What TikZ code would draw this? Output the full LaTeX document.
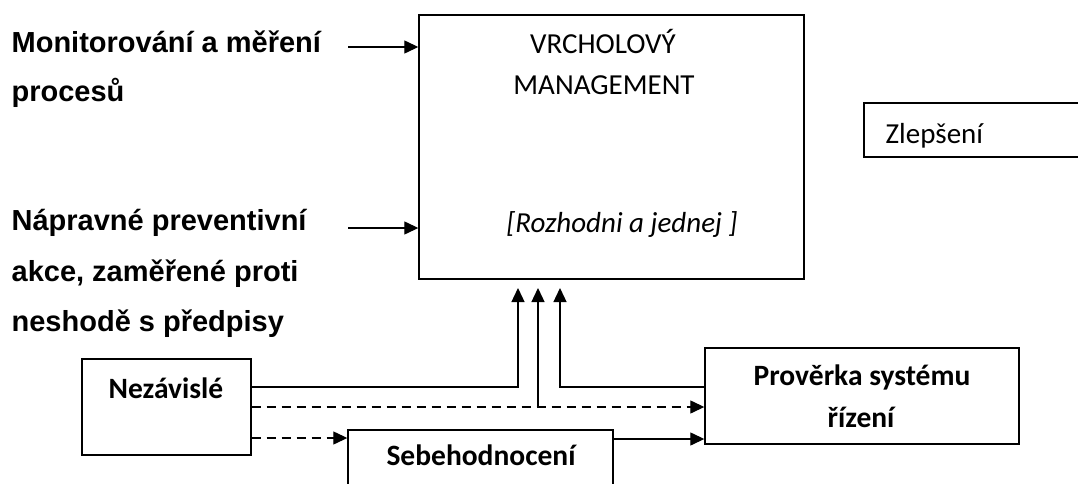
\documentclass[tikz,border=0pt]{standalone}
\usepackage{fontspec}
\setmainfont{Carlito}
\newfontfamily\arialfont{Liberation Sans}
\usetikzlibrary{arrows.meta}
\begin{document}
\begin{tikzpicture}[x=1pt,y=-1pt,
  line width=1.3pt,
  box/.style={draw, line width=1.4pt, inner sep=0pt},
  lbl/.style={inner sep=0pt, font=\fontsize{29}{31}\selectfont},
  blbl/.style={inner sep=0pt, font=\fontsize{29.5}{31}\selectfont\bfseries},
  side/.style={inner sep=0pt, anchor=base west, font=\arialfont\bfseries\fontsize{29}{31}\selectfont},
  arr/.style={-{Triangle[length=14pt,width=13pt]}},
  dsh/.style={dash pattern=on 9pt off 6pt}]
\clip (0,0) rectangle (1078,484);
\fill[white] (0,0) rectangle (1078,484);

% boxes
\node[box, minimum width=385pt, minimum height=264pt] (main) at (611.5,147) {};
\node[box, minimum width=240pt, minimum height=54pt] (zlep) at (984,130) {};
\node[box, minimum width=169pt, minimum height=96pt] (nez) at (166.5,407) {};
\node[box, minimum width=265pt, minimum height=80pt] (seb) at (480.5,470) {};
\node[box, minimum width=314pt, minimum height=96pt] (prov) at (862,396) {};

% texts in boxes
\node[lbl, anchor=base] (t1) at (603,54) {VRCHOLOVÝ};
\node[lbl, anchor=base] (t2) at (604,95) {MANAGEMENT};
\node[lbl, anchor=base] (t3) at (622,232) {\itshape [Rozhodni a jednej ]};
\node[lbl, anchor=base west] (tz) at (885,143) {Zlepšení};
\node[blbl, anchor=base] (tn) at (166,398) {Nezávislé};
\node[blbl, anchor=base] (ts) at (481,465) {Sebehodnocení};
\node[blbl, anchor=base] (tp1) at (862,385) {Prověrka systému};
\node[blbl, anchor=base] (tp2) at (861,427) {řízení};

% side texts
\node[side] (s1) at (11,53) {Monitorování a měření};
\node[side] (s2) at (11,102) {procesů};
\node[side] (s3) at (11,230) {Nápravné preventivní};
\node[side] (s4) at (11,281) {akce, zaměřené proti};
\node[side] (s5) at (11,331) {neshodě s předpisy};

% input arrows
\coordinate (in1) at (348,47);
\coordinate (in2) at (348,228);
\draw[arr] (in1) -- (in1 -| main.west);
\draw[arr] (in2) -- (in2 -| main.west);

% upward arrows
\coordinate (u1) at (518,288);
\coordinate (u2) at (538,288);
\coordinate (u3) at (560,288);
\coordinate (j2) at (538,407);
\draw[arr] ([yshift=20pt]nez.east) -| (u1);
\draw[arr, dsh] (nez.east) -- ([yshift=-11pt]prov.west);
\draw[arr] (j2) -- (u2);
\draw[arr] ([yshift=9pt]prov.west) -| (u3);

% lower arrows
\draw[arr, dsh] ([yshift=-31pt]nez.east) -- ([yshift=-31pt]nez.east -| seb.west);
\draw[arr] ([yshift=31pt]seb.east) -- ([yshift=31pt]seb.east -| prov.west);
\end{tikzpicture}
\end{document}
